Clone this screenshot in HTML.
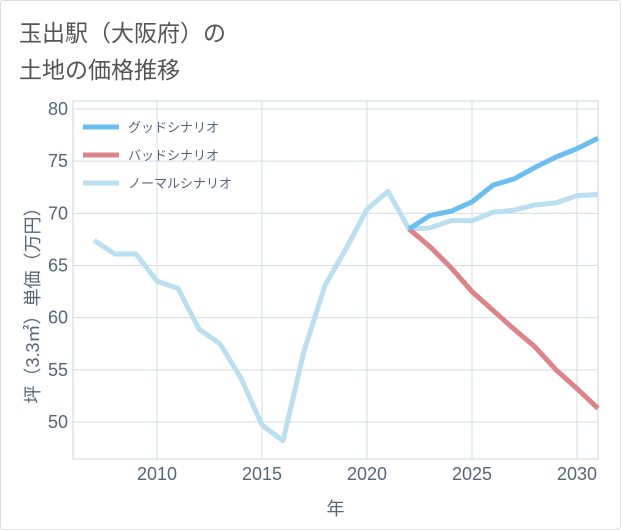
<!DOCTYPE html>
<html><head><meta charset="utf-8"><style>
body{margin:0;background:#fff;font-family:"Liberation Sans","Noto Sans CJK JP",sans-serif;}
#wrap{position:relative;width:619px;height:528px;border:1px solid #ddd;border-radius:4px;overflow:hidden;}
</style></head><body>
<div id="wrap">
<svg id="chart" width="621" height="530">
<text x="18" y="40" font-size="23" fill="#555" font-family="Liberation Sans, Noto Sans CJK JP, sans-serif">玉出駅（大阪府）の</text>
<text x="18" y="77" font-size="23" fill="#555" font-family="Liberation Sans, Noto Sans CJK JP, sans-serif">土地の価格推移</text>
<g id="grid"></g><g id="series"></g><g id="axes"></g><g id="legend"></g>
</svg>
</div>
<script>
const years=[2007,2008,2009,2010,2011,2012,2013,2014,2015,2016,2017,2018,2019,2020,2021,2022,2023,2024,2025,2026,2027,2028,2029,2030,2031];
const normalValues=[67.4,66.1,66.1,63.5,62.8,58.9,57.5,54.2,49.7,48.2,56.8,63.1,66.6,70.4,72.1,68.5,68.6,69.3,69.3,70.1,70.3,70.8,71.0,71.7,71.8];
const futureYears=[2022,2023,2024,2025,2026,2027,2028,2029,2030,2031];
const goodValues=[68.5,69.8,70.2,71.1,72.7,73.3,74.4,75.4,76.2,77.2];
const badValues=[68.5,66.8,64.8,62.5,60.7,58.9,57.2,55.0,53.2,51.3];
const xTicks=[2010,2015,2020,2025,2030];
const yTicks=[50,55,60,65,70,75,80];
const legendLabels=["グッドシナリオ","バッドシナリオ","ノーマルシナリオ"];
const NS="http://www.w3.org/2000/svg";
const L=72,R=597,T=100,B=458;
const x=v=>L+(v-2006)*(R-L)/25;
const y=v=>421-(v-50)*(421-108)/30;
function mk(t,a,p){const e=document.createElementNS(NS,t);for(const k in a)e.setAttribute(k,a[k]);p.appendChild(e);return e;}
const grid=document.getElementById('grid'),axes=document.getElementById('axes'),ser=document.getElementById('series'),leg=document.getElementById('legend');
const font="Liberation Sans, Noto Sans CJK JP, sans-serif";
mk('rect',{x:L,y:T,width:R-L,height:B-T,fill:'none',stroke:'#ccd3dc'},grid);
yTicks.forEach(v=>{const l=mk('line',{x1:L,x2:R,y1:y(v),y2:y(v),stroke:'#d5dbe3'},grid);


const t=mk('text',{x:L-5,y:y(v)+6,'text-anchor':'end','font-size':18,fill:'#56667a','font-family':font},axes);t.textContent=v;

});
xTicks.forEach(v=>{const l=mk('line',{x1:x(v),x2:x(v),y1:T,y2:B,stroke:'#d5dbe3'},grid);


const t=mk('text',{x:x(v),y:B+21,'text-anchor':'middle','font-size':18,fill:'#56667a','font-family':font},axes);t.textContent=v;

});
const xt=mk('text',{x:(L+R)/2,y:514,'text-anchor':'middle','font-size':18,fill:'#56667a','font-family':font},axes);xt.textContent='年';


const yt=mk('text',{x:0,y:0,'text-anchor':'middle','font-size':18,fill:'#56667a','font-family':font,transform:'translate(38,300) rotate(-90)'},axes);yt.textContent='坪（3.3㎡）単価（万円）';


function line(xs,vs,c,name){const p=mk('polyline',{points:xs.map((v,i)=>x(v)+','+y(vs[i])).join(' '),fill:'none',stroke:c,'stroke-width':5,'stroke-linejoin':'round'},ser);

}
line(years,normalValues,'#b9dff0','normal-scenario-line');
line(futureYears,badValues,'#dd8489','bad-scenario-line');
line(futureYears,goodValues,'#6bbff0','good-scenario-line');
const cols=['#6bbff0','#dd8489','#b9dff0'];
legendLabels.forEach((s,i)=>{const yy=126+i*28;
const l=mk('line',{x1:82,x2:118,y1:yy,y2:yy,stroke:cols[i],'stroke-width':5},leg);


const t=mk('text',{x:127,y:yy+5,'font-size':13,fill:'#56667a','font-family':font},leg);t.textContent=s;

});
</script>
</body></html>
